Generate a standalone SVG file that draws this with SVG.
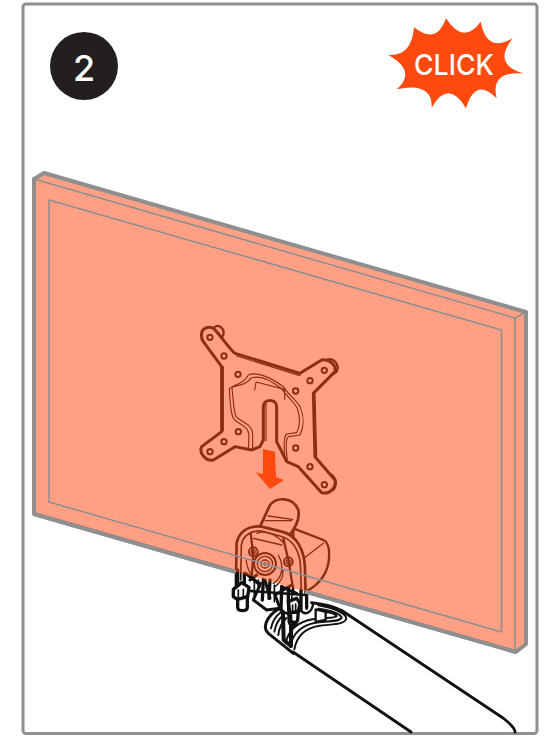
<svg xmlns="http://www.w3.org/2000/svg" width="545" height="736" viewBox="0 0 545 736">
<style>
.k{fill:none;stroke:#111;stroke-linecap:round;stroke-linejoin:round}
.w{fill:#fff;stroke:#111;stroke-linecap:round;stroke-linejoin:round}
.g{fill:none;stroke:#8f8f8f;stroke-linejoin:round}
.t{font-family:Inter,"Liberation Sans",sans-serif;fill:#fff;font-weight:500}
</style>
<rect x="0" y="0" width="545" height="736" fill="#fff"/>
<rect id="frame" x="23" y="4" width="514" height="729.500" rx="3" fill="#fff" stroke="#8f8f8f" stroke-width="3"/>
<path class="g" stroke-width="4" d="M34 514L516 652"/>
<g id="arm">
<path d="M345 612L503 718C512 725 515 730 515 732L413 732L293 652L268 635L275 600L330 600Z" fill="#fff"/>
<path class="k" stroke-width="2.800" d="M341 610L503 718C512 725 515 730 515 732M293 652L411 732"/>
</g>
<g id="base" transform="translate(255 590) scale(.3333)">
<path class="k" stroke-width="9" d="M40 130C25 115 30 100 40 85C50 70 60 62 75 55M40 130L115 190M170 38C205 42 240 50 258 62"/>
<path class="k" stroke-width="6" d="M118 178C125 140 150 115 190 108C230 102 270 105 274 85C272 70 240 55 190 46M105 170C112 132 140 105 182 98C222 92 255 96 260 83C256 72 232 62 190 56M92 160C100 122 128 96 172 88C210 82 240 86 245 78C240 70 220 66 190 64M48 115C52 95 60 80 78 66M58 125C62 102 70 88 86 74M70 135C72 112 80 98 94 84"/>
<path class="w" stroke-width="7" d="M182 58L182 96L212 90L212 66Z"/>
<path class="k" stroke-width="12" d="M84 70L86 150L108 168L108 80"/>
<path class="k" stroke-width="7" d="M75 55C90 70 100 72 104 72M135 60C150 78 170 70 175 40"/>
<path class="w" stroke-width="9" d="M100 40L102 95C105 110 122 110 125 95L128 40Z"/>
<path class="k" stroke-width="5" d="M113 50L113 72"/>
</g>
<g id="mount" transform="translate(210 480) scale(.3333)">
<path class="w" stroke-width="7" d="M250 145L340 180C365 190 360 250 345 280C330 310 300 330 285 335L250 300Z"/>
<path class="k" stroke-width="4" d="M275 240L340 190"/>
<path class="w" stroke-width="8" d="M150 140L180 75C200 50 250 50 265 90C270 115 260 140 235 170L200 170Z"/>
<path class="k" stroke-width="4" d="M165 122L245 122M175 108L248 118M150 150L235 168M140 160L230 182"/>
<path class="w" stroke-width="8" d="M78 290L80 190C85 160 110 135 155 140L215 155C260 165 285 210 285 270L287 345L78 330Z"/>
<path class="k" stroke-width="5" d="M92 300L94 195C98 170 120 150 155 153L210 168C250 178 272 215 272 270L274 340"/>
<path class="k" stroke-width="7" d="M122 160L130 225M125 290L130 225M220 175L236 245M236 245L250 330"/>
<circle class="k" stroke-width="6" cx="165" cy="252" r="33"/>
<circle class="k" stroke-width="4" cx="165" cy="252" r="23"/>
<circle class="k" stroke-width="4" cx="165" cy="252" r="12"/>
<circle class="k" stroke-width="3" cx="165" cy="252" r="4"/>
<circle class="k" stroke-width="6" cx="130" cy="215" r="13"/>
<circle class="k" stroke-width="4" cx="130" cy="215" r="6"/>
<circle class="k" stroke-width="6" cx="235" cy="245" r="13"/>
<circle class="k" stroke-width="4" cx="235" cy="245" r="6"/>
<path class="k" stroke-width="4" d="M205 225C225 260 215 295 190 310M218 270C222 290 210 310 195 320M130 175L215 195M140 160C170 150 200 165 222 190M108 240C115 285 135 305 160 312"/>
</g>
<g id="bolts" transform="translate(225 530) scale(.3333)">
<path class="k" stroke-width="10" d="M38 120L38 170M58 130L58 165M115 148L112 210M135 150L132 205M170 170L168 240M190 175L190 215M228 180L228 240M245 185L245 235"/>
<path class="k" stroke-width="9" d="M62 130L105 165L85 210L125 240L165 235L150 195L200 165M120 150L135 205M170 170L215 190M75 150L95 135"/>
<path class="k" stroke-width="5" d="M88 150L88 200M100 150L100 175M148 165L148 215M205 170L200 205"/>
<path class="w" stroke-width="10" d="M25 178L50 158L72 172L68 200L40 210L25 200Z"/>
<path class="k" stroke-width="5" d="M40 180L40 205M55 178L55 203"/>
<path class="w" stroke-width="10" d="M38 208L38 233C40 245 65 245 67 233L67 200Z"/>
<path class="w" stroke-width="10" d="M190 215L215 205L225 220L220 245L195 250Z"/>
<path class="k" stroke-width="5" d="M203 225L203 247M212 222L212 245"/>
<path class="w" stroke-width="10" d="M197 248L197 270C200 280 215 280 218 270L220 245Z"/>
</g>
<g id="plate" transform="translate(180 310) scale(.3333)">
<path class="w" stroke-width="7" d="M100 55C110 40 135 50 130 75L115 95Z"/>
<path class="w" stroke-width="7" d="M440 150C460 140 480 165 470 185L445 200Z"/>
<path class="w" stroke-width="7" d="M445 490C465 495 475 520 460 540L435 530Z"/>
<path class="w" stroke-width="9" d="M65 70C65 55 85 48 100 55C112 62 150 120 165 130L360 190L425 150C445 145 470 165 465 185L400 250L405 440L465 510C470 530 450 555 425 548L355 470L320 455L290 395L290 290C290 265 250 265 250 290L250 390L240 410L215 420L165 410L100 450C80 455 55 430 65 410L125 365L125 170L70 95C62 85 65 75 65 70Z"/>
<path class="k" stroke-width="3.500" d="M170 138L360 197M405 250L410 440M130 170L130 362M258 280L258 392M148 235C150 270 150 305 160 325C175 345 205 345 207 375L205 420M156 235C160 265 160 300 168 320C185 338 218 340 218 375L218 418M150 235C165 220 190 225 205 195C230 185 270 200 310 230C325 255 345 265 360 290C372 320 375 345 360 375L325 380C315 390 318 420 322 450M158 232C175 222 198 228 212 205C235 195 270 208 305 236C320 260 338 270 352 295C362 325 362 345 350 368L320 372C308 385 312 420 315 445M228 216L224 240M228 216L314 238L314 268"/>
<g fill="none" stroke="#111" stroke-width="6">
<circle cx="90" cy="82" r="8"/><circle cx="132" cy="138" r="8"/><circle cx="174" cy="193" r="8"/>
<circle cx="347" cy="243" r="8"/><circle cx="390" cy="212" r="8"/><circle cx="433" cy="181" r="8"/>
<circle cx="347" cy="414" r="8"/><circle cx="390" cy="470" r="8"/><circle cx="433" cy="524" r="8"/>
<circle cx="175" cy="365" r="8"/><circle cx="132" cy="395" r="8"/><circle cx="90" cy="425" r="8"/>
</g>
</g>
<g id="monitor">
<polygon points="34,179 44,173 526,312 526,644 516,652 34,514" fill="#ff4614" fill-opacity=".52"/>
<path class="g" stroke-width="1.500" d="M34 179L515 318L526 312M515 318L515 652M49 200L501.500 330L501.500 632L49 502Z"/>
<path class="g" stroke-width="4" d="M236 572L34 514L34 179L44 173L526 312L526 644L516 652L305 591.500"/>
</g>
<g id="arrow"><polygon points="263,449 275,451.700 276,477 284,480 270,489 255.700,472.300 263,474" fill="#ff4a0f"/></g>
<g id="step"><circle cx="84" cy="66" r="34" fill="#231f20"/><text class="t" x="84" y="81" font-size="36" text-anchor="middle">2</text></g>
<g id="click">
<path fill="#ff4a0f" transform="translate(380 10) scale(.3333)" d="M25 135Q95 140 102 52Q170 106 198 25Q250 106 302 35Q320 130 398 85Q336 163 430 190Q330 183 350 265Q286 200 258 295Q205 206 155 293Q158 215 50 238Q112 184 25 135Z"/>
<text class="t" x="414" y="75" font-size="29" textLength="80" lengthAdjust="spacingAndGlyphs">CLICK</text>
</g>
</svg>
